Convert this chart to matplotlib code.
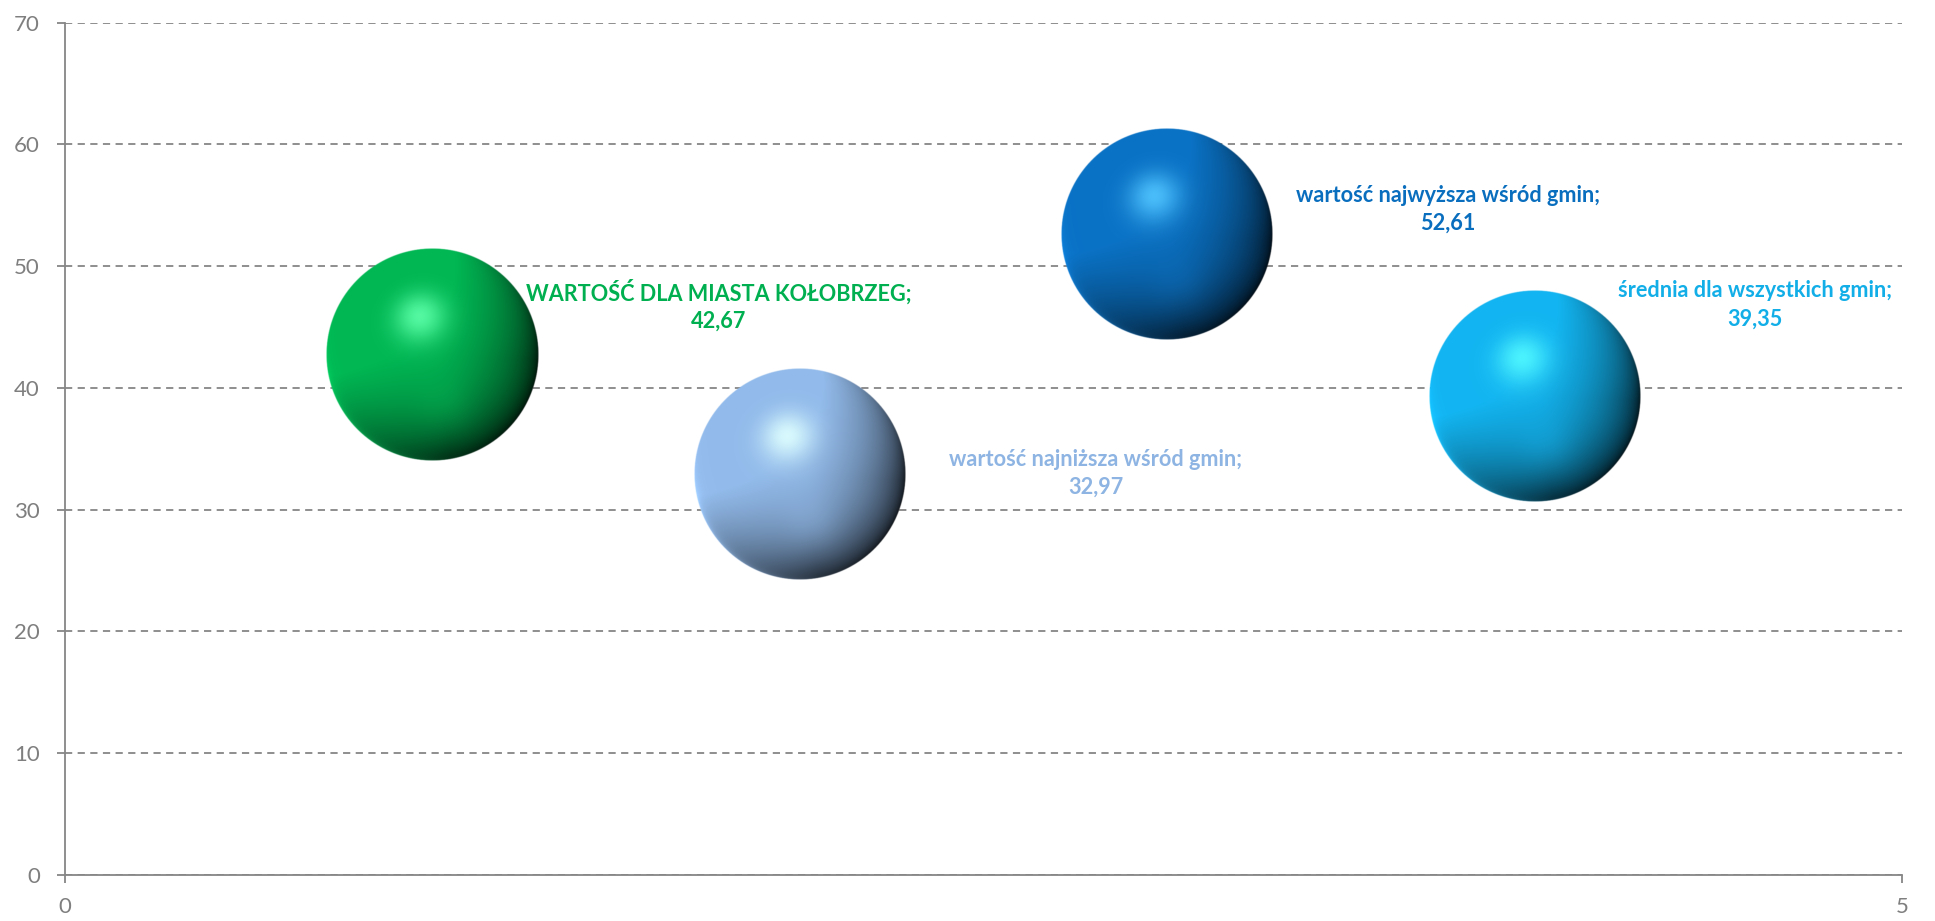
import numpy as np
import matplotlib
matplotlib.use("Agg")
import matplotlib.pyplot as plt
from matplotlib import font_manager as fm

# ---- data ----
x_vals = [1, 2, 3, 4]
y_vals = [42.67, 32.97, 52.61, 39.35]
labels = ["WARTOŚĆ DLA MIASTA KOŁOBRZEG;", "wartość najniższa wśród gmin;",
          "wartość najwyższa wśród gmin;", "średnia dla wszystkich gmin;"]
value_labels = ["42,67", "32,97", "52,61", "39,35"]
colors = ["#00B050", "#8DB4E2", "#0A6EBE", "#12AEE8"]
hi_colors = ["#5CFFA8", "#DFFFFF", "#50C4FF", "#50F8FF"]
y_ticks = [0, 10, 20, 30, 40, 50, 60, 70]
x_ticks = [0, 5]

# label offsets (pixels) from bubble centre
label_offsets = [(286, 50), (296, 0), (281, 25), (220, 91)]


def bold_ok(fam):
    try:
        p = fm.findfont(fm.FontProperties(family=fam, weight="bold"), fallback_to_default=False)
        return "bold" in p.lower() and fam.split()[0].lower() in p.lower().replace(" ", "")
    except Exception:
        return False


label_family = "DejaVu Sans"
for cand in ["Lato", "Noto Sans", "Open Sans", "Roboto", "Liberation Sans"]:
    if bold_ok(cand):
        label_family = cand
        break

plt.rcParams['font.family'] = ['Lato', 'DejaVu Sans']

W, H = 1935, 921
fig = plt.figure(figsize=(W / 100, H / 100), dpi=100)
left, right, top, bottom = 65, 1902, 22.7, 875
ax = fig.add_axes([left / W, (H - bottom) / H, (right - left) / W, (bottom - top) / H])
ax.set_xlim(0, 5)
ax.set_ylim(0, 70)
ax.set_xticks(x_ticks)
ax.set_yticks(y_ticks)
ax.set_axisbelow(True)
grey = "#868686"
ax.yaxis.grid(True, linestyle=(0, (4, 3)), color=grey, linewidth=1.3)
for s in ["top", "right"]:
    ax.spines[s].set_visible(False)
for s in ["left", "bottom"]:
    ax.spines[s].set_color(grey)
    ax.spines[s].set_linewidth(1.3)
ax.tick_params(axis="both", colors=grey, length=6, width=1.3, labelsize=16,
               labelcolor="#7F7F7F", pad=10)
ax.tick_params(axis="y", pad=12)

# fit label font size so the dark-blue label is ~305 px wide
renderer = fig.canvas.get_renderer()
tt = fig.text(0, 0, labels[2], fontsize=16, fontweight="bold", family=[label_family, "DejaVu Sans"])
wpx = tt.get_window_extent(renderer).width
tt.remove()
label_size = 16 * 305 / wpx

# pixel -> data scale
p0 = ax.transData.transform((0, 0))
p1 = ax.transData.transform((1, 1))
px_per_x = p1[0] - p0[0]
px_per_y = p1[1] - p0[1]
r_px = 106
rx = r_px / px_per_x
ry = r_px / px_per_y


def to_rgb(h):
    return np.array(matplotlib.colors.to_rgb(h))


def unit(v):
    v = np.array(v, float)
    return v / np.linalg.norm(v)


N = 500
u = np.linspace(-1, 1, N)
U, V = np.meshgrid(u, -u)  # V up
RR = np.sqrt(U ** 2 + V ** 2)
RRs = np.maximum(RR, 1e-6)
Z = np.sqrt(np.clip(1 - RR ** 2, 0, 1))

# directional rim darkening (toward lower right)
c_dr = (U * 0.75 - V * 0.66) / RRs
f_dr = np.clip(0.45 + 0.7 * c_dr, 0, 1)
dark = np.clip(1 - Z, 0, 1) ** 0.9 * f_dr
shade = 1 - 0.95 * dark
shade *= 1 - 0.22 * np.clip(U * 0.45 - V * 0.75, -1, 1)
shade = np.clip(shade, 0, 1.04)
# bottom-left rim light
c_bl = (-U * 0.5 - V * 0.85) / RRs
rim = np.clip(c_bl, 0, 1) ** 2 * np.clip(1 - Z, 0, 1) ** 5
# soft lower glow
glow = np.exp(-((U - 0.12) ** 2 + (V + 0.5) ** 2) / 0.07)
Hs = unit([-0.12, 0.36, 0.925])
sp = np.clip(U * Hs[0] + V * Hs[1] + Z * Hs[2], 0, 1) ** 32
alpha = np.clip((1 - RR) * N / 3.0, 0, 1)

# scatter marks (base)
diam_pt = (2 * r_px - 14) * 72 / 100
ax.scatter(x_vals, y_vals, s=diam_pt ** 2, c=colors, linewidths=0, zorder=2)

for xv, yv, col, hcol, lab, val, off in zip(x_vals, y_vals, colors, hi_colors, labels,
                                            value_labels, label_offsets):
    base = to_rgb(col)
    hi = to_rgb(hcol)
    img = base[None, None, :] * shade[..., None]
    img = img + (base[None, None, :] * 0.5 + 0.05) * (1.0 * rim + 0.15 * glow)[..., None]
    k = np.clip(0.9 * sp, 0, 1)[..., None]
    img = img * (1 - k) + hi[None, None, :] * k
    img = np.clip(img, 0, 1)
    rgba = np.dstack([img, alpha])
    ax.imshow(rgba, extent=(xv - rx, xv + rx, yv - ry, yv + ry), aspect="auto",
              interpolation="bilinear", zorder=3)
    ax.annotate(lab + "\n" + val, xy=(xv, yv), xytext=(off[0] * 0.72, off[1] * 0.72),
                textcoords="offset points", ha="center", va="center",
                color=col, fontsize=label_size, fontweight="bold",
                family=[label_family, "DejaVu Sans"], linespacing=1.4, zorder=4)

ax.set_xlim(0, 5)
ax.set_ylim(0, 70)
fig.savefig("out.png", dpi=100)
